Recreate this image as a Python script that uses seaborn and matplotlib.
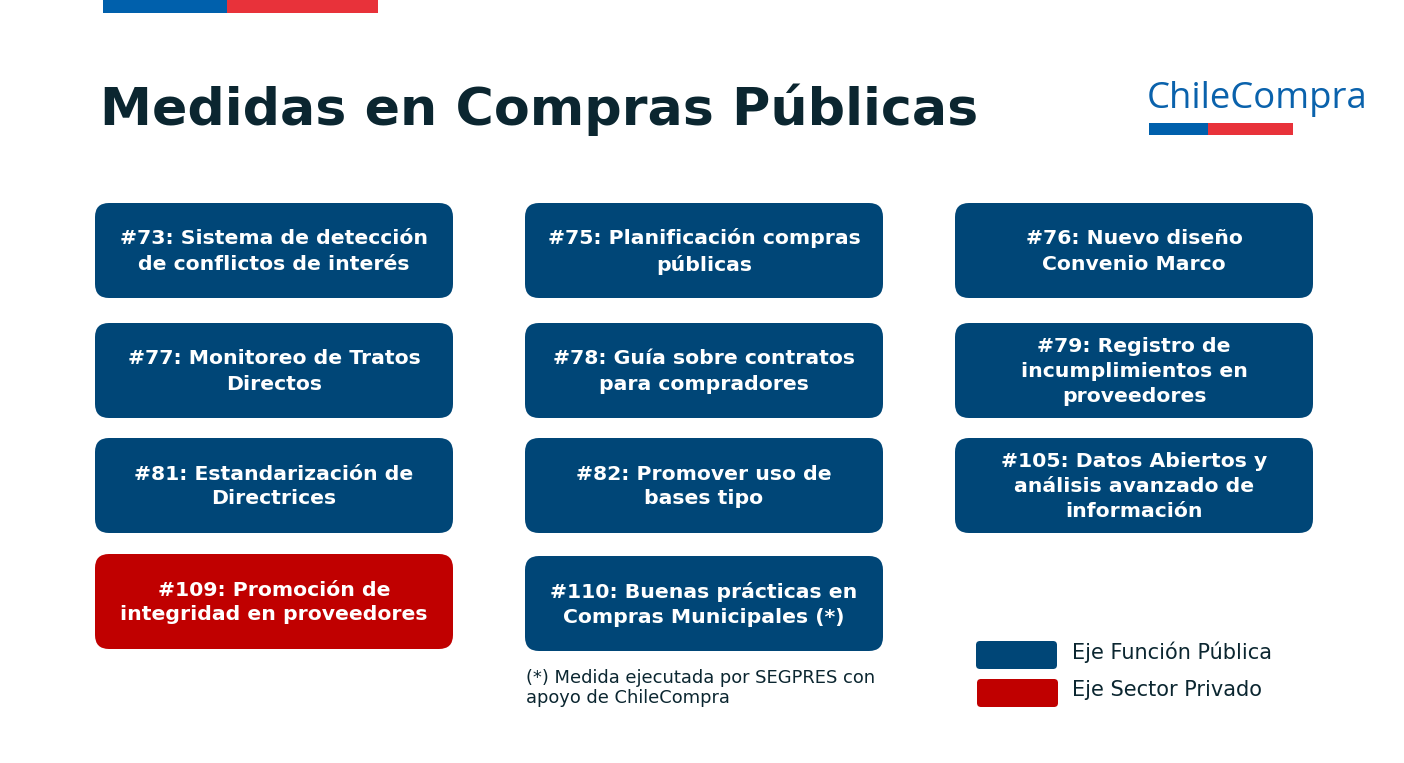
import matplotlib
matplotlib.use("Agg")
import matplotlib.pyplot as plt
from matplotlib.patches import FancyBboxPatch, Rectangle
import seaborn as sns

sns.set_theme(style="white")
plt.rcParams["font.family"] = ["DejaVu Sans"]

# --- data ---
title = "Medidas en Compras Públicas"
logo_text = "ChileCompra"
medidas = [
    "#73: Sistema de detección\nde conflictos de interés",
    "#75: Planificación compras\npúblicas",
    "#76: Nuevo diseño\nConvenio Marco",
    "#77: Monitoreo de Tratos\nDirectos",
    "#78: Guía sobre contratos\npara compradores",
    "#79: Registro de\nincumplimientos en\nproveedores",
    "#81: Estandarización de\nDirectrices",
    "#82: Promover uso de\nbases tipo",
    "#105: Datos Abiertos y\nanálisis avanzado de\ninformación",
    "#109: Promoción de\nintegridad en proveedores",
    "#110: Buenas prácticas en\nCompras Municipales (*)",
]
ejes = ["Función Pública"] * 9 + ["Sector Privado", "Función Pública"]
legend_labels = ["Eje Función Pública", "Eje Sector Privado"]
nota = "(*) Medida ejecutada por SEGPRES con\napoyo de ChileCompra"

palette = {"Función Pública": "#004677", "Sector Privado": "#C00000"}
flag_blue, flag_red = "#0060AC", "#E8323A"
text_dark = "#0B2630"

# --- layout (pixels) ---
W, H = 1404, 763
col_x = [95, 525, 955]
row_y = [203, 323, 438, 554]
box_w, box_h = 358, 95

fig = plt.figure(figsize=(W / 100, H / 100), dpi=100)
ax = fig.add_axes([0, 0, 1, 1])
ax.set_xlim(0, W)
ax.set_ylim(H, 0)
ax.axis("off")

# top flag bar
ax.add_patch(Rectangle((103, 0), 124, 13, color=flag_blue, lw=0))
ax.add_patch(Rectangle((227, 0), 151, 13, color=flag_red, lw=0))

# title
ax.text(100, 125, title, fontsize=37.6, fontweight="bold", color=text_dark,
        ha="left", va="baseline")

# logo
ax.text(1147, 108, logo_text, fontsize=26.3, color="#0A62AC",
        family=["Open Sans", "DejaVu Sans"], ha="left", va="baseline")
ax.add_patch(Rectangle((1149, 123), 59, 12, color=flag_blue, lw=0))
ax.add_patch(Rectangle((1208, 123), 85, 12, color=flag_red, lw=0))

# boxes
for i, (label, eje) in enumerate(zip(medidas, ejes)):
    r, c = divmod(i, 3)
    if i == 10:
        r, c = 3, 1
    x0 = col_x[c]
    y0 = row_y[r] + (2 if i == 10 else 0)
    ax.add_patch(FancyBboxPatch((x0 + 14, y0 + 14), box_w - 28, box_h - 28,
                                boxstyle="round,pad=14", fc=palette[eje],
                                ec="none"))
    ax.text(x0 + box_w / 2, y0 + box_h / 2 + 1, label, fontsize=14.7,
            fontweight="bold", color="white", ha="center", va="center",
            linespacing=1.4)

# footnote
ax.text(526, 669, nota, fontsize=12.9, color=text_dark, ha="left", va="top",
        linespacing=1.15)

# legend
for k, (lab, eje) in enumerate(zip(legend_labels, palette)):
    y0 = 641 + 38 * k
    ax.add_patch(FancyBboxPatch((976 + k + 4, y0 + 4), 81 - 8, 28 - 8,
                                boxstyle="round,pad=4", fc=palette[eje],
                                ec="none"))
    ax.text(1072, y0 + 11, lab, fontsize=15, color=text_dark,
            ha="left", va="center")

fig.savefig("out.png", dpi=100, facecolor="white")
